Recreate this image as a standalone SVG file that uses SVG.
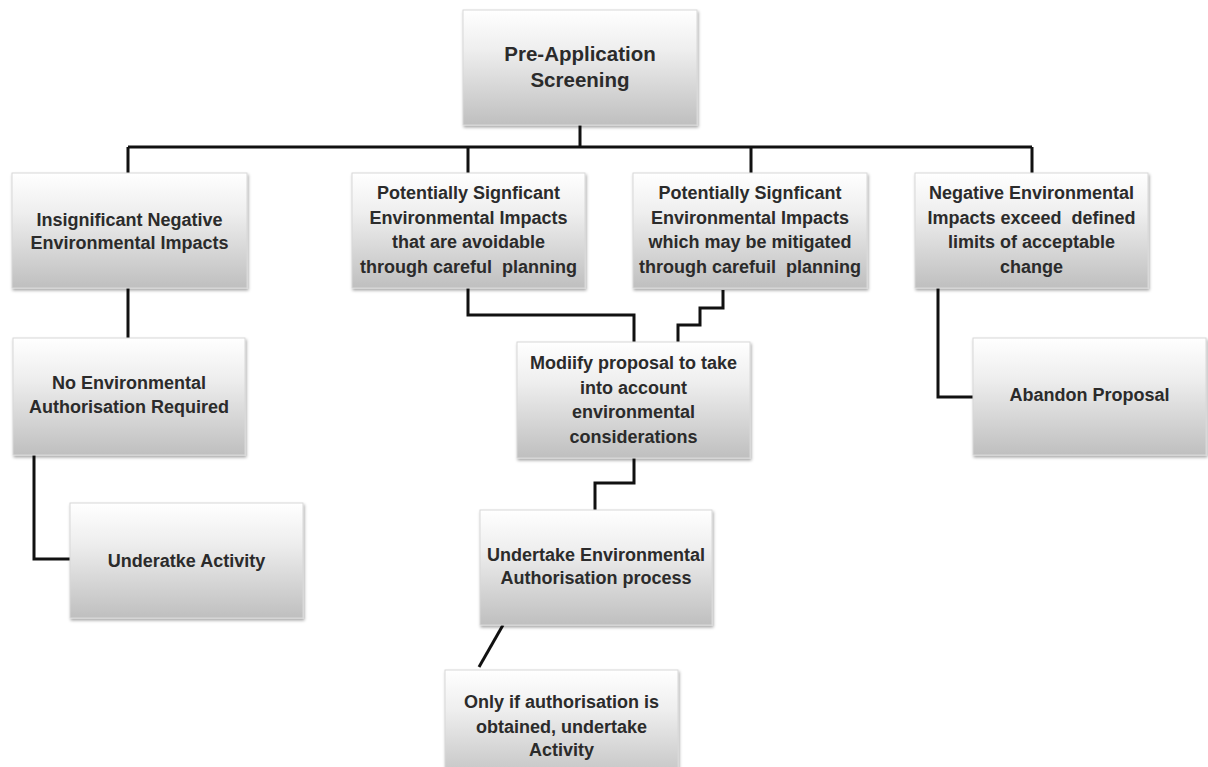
<svg xmlns="http://www.w3.org/2000/svg" width="1208" height="767" viewBox="0 0 1208 767">
<style>
  .box { fill: url(#g); stroke: #d8d8d8; stroke-width: 1; filter: url(#sh); }
  .t { font-family: "Liberation Sans", Arial, sans-serif; font-weight: bold; font-size: 18px; fill: #2b2b2b; text-anchor: middle; }
  .big { font-size: 20.5px; }
  .c { fill: none; stroke: #111; stroke-width: 3; }
</style>
<defs>
  <linearGradient id="g" x1="0" y1="0" x2="0" y2="1">
    <stop offset="0" stop-color="#ffffff"/>
    <stop offset="0.35" stop-color="#eeeeee"/>
    <stop offset="1" stop-color="#bfbfbf"/>
  </linearGradient>
  <filter id="sh" x="-10%" y="-10%" width="120%" height="130%">
    <feDropShadow dx="1" dy="2" stdDeviation="1.5" flood-color="#000" flood-opacity="0.35"/>
  </filter>
</defs>
<rect width="1208" height="767" fill="#fff"/>
<g id="connectors">
  <path class="c" d="M580 125 V147"/>
  <path class="c" d="M128 147 H1032"/>
  <path class="c" d="M128 147 V173 M468 147 V173 M751 147 V173 M1032 147 V173"/>
  <path class="c" d="M128 288 V338"/>
  <path class="c" d="M34 455 V559 H70"/>
  <path class="c" d="M938 288 V397 H973"/>
  <path class="c" d="M468 288 V315 H634 V342"/>
  <path class="c" d="M723 290 V308 H700 V325 H678 V342"/>
  <path class="c" d="M634 458 V483 H595 V510"/>
  <path class="c" d="M503 625 L479 667"/>
</g>
<g id="n-pre">
  <rect class="box" x="463" y="10" width="234" height="115"/>
  <text class="t big" x="580" y="61">Pre-Application</text>
  <text class="t big" x="580" y="87">Screening</text>
</g>
<g id="n-insig">
  <rect class="box" x="12" y="173" width="235" height="115"/>
  <text class="t" x="129.5" y="226">Insignificant Negative</text>
  <text class="t" x="129.5" y="249">Environmental Impacts</text>
</g>
<g id="n-avoid">
  <rect class="box" x="352" y="173" width="233" height="115"/>
  <text class="t" x="468.5" y="199">Potentially Signficant</text>
  <text class="t" x="468.5" y="223.5">Environmental Impacts</text>
  <text class="t" x="468.5" y="248">that are avoidable</text>
  <text class="t" x="468.5" y="272.5" xml:space="preserve">through careful  planning</text>
</g>
<g id="n-mitig">
  <rect class="box" x="633" y="173" width="234" height="115"/>
  <text class="t" x="750" y="199">Potentially Signficant</text>
  <text class="t" x="750" y="223.5">Environmental Impacts</text>
  <text class="t" x="750" y="248">which may be mitigated</text>
  <text class="t" x="750" y="272.5" xml:space="preserve">through carefuil  planning</text>
</g>
<g id="n-exceed">
  <rect class="box" x="915" y="173" width="233" height="115"/>
  <text class="t" x="1031.5" y="199">Negative Environmental</text>
  <text class="t" x="1031.5" y="223.5" xml:space="preserve">Impacts exceed  defined</text>
  <text class="t" x="1031.5" y="248">limits of acceptable</text>
  <text class="t" x="1031.5" y="272.5">change</text>
</g>
<g id="n-noauth">
  <rect class="box" x="13" y="338" width="232" height="117"/>
  <text class="t" x="129" y="389">No Environmental</text>
  <text class="t" x="129" y="413">Authorisation Required</text>
</g>
<g id="n-underatke">
  <rect class="box" x="70" y="503" width="233" height="115"/>
  <text class="t" x="186.5" y="567">Underatke Activity</text>
</g>
<g id="n-modify">
  <rect class="box" x="517" y="342" width="233" height="116"/>
  <text class="t" x="633.5" y="369">Modiify proposal to take</text>
  <text class="t" x="633.5" y="393.5">into account</text>
  <text class="t" x="633.5" y="418">environmental</text>
  <text class="t" x="633.5" y="442.5">considerations</text>
</g>
<g id="n-abandon">
  <rect class="box" x="973" y="338" width="233" height="117"/>
  <text class="t" x="1089.5" y="401">Abandon Proposal</text>
</g>
<g id="n-undertake">
  <rect class="box" x="480" y="510" width="232" height="115"/>
  <text class="t" x="596" y="561">Undertake Environmental</text>
  <text class="t" x="596" y="584">Authorisation process</text>
</g>
<g id="n-onlyif">
  <rect class="box" x="445" y="670" width="233" height="115"/>
  <text class="t" x="561.5" y="708">Only if authorisation is</text>
  <text class="t" x="561.5" y="733">obtained, undertake</text>
  <text class="t" x="561.5" y="756">Activity</text>
</g>
</svg>
